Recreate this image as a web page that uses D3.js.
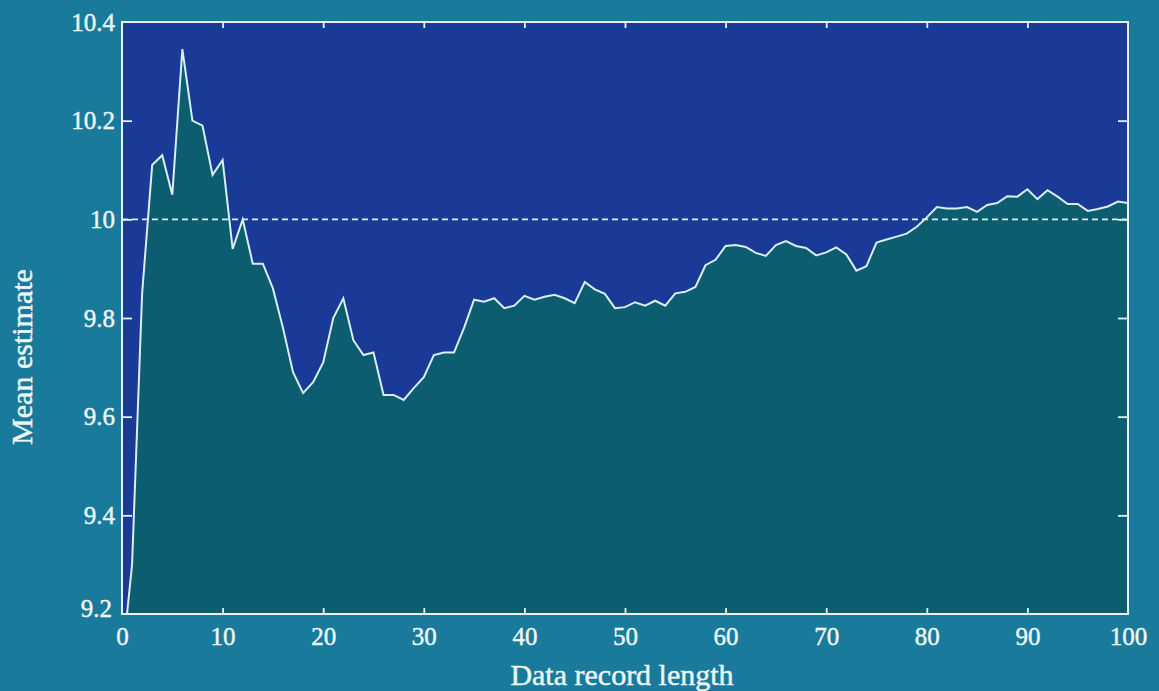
<!DOCTYPE html>
<html>
<head>
<meta charset="utf-8">
<script src="https://cdn.jsdelivr.net/npm/d3@7"></script>
<style>
  html, body { margin: 0; padding: 0; background: #197a9c; }
  svg { display: block; }
  text { font-family: "Liberation Serif", "Times New Roman", serif; fill: #eef6f4; stroke: #eef6f4; stroke-width: 0.45px; }
</style>
</head>
<body>
<svg id="chart" width="1159" height="691"></svg>
<script>
// Running mean estimate versus the number of samples used
const recordLength = d3.range(0, 101);
const meanEstimate = [
  9.10, 9.30, 9.85, 10.11, 10.13, 10.05, 10.345, 10.20, 10.19, 10.09,
  10.12, 9.94, 10.00, 9.91, 9.91, 9.86, 9.78, 9.69, 9.648, 9.67,
  9.71, 9.80, 9.84, 9.755, 9.725, 9.73, 9.644, 9.644, 9.634, 9.658,
  9.68, 9.725, 9.73, 9.73, 9.78, 9.837, 9.833, 9.84, 9.82, 9.825,
  9.845, 9.837, 9.843, 9.847, 9.84, 9.83, 9.873, 9.858, 9.849, 9.82,
  9.822, 9.832, 9.825, 9.835, 9.825, 9.85, 9.853, 9.863, 9.907, 9.918,
  9.946, 9.948, 9.944, 9.932, 9.926, 9.948, 9.956, 9.946, 9.942, 9.927,
  9.933, 9.943, 9.929, 9.896, 9.905, 9.953, 9.959, 9.965, 9.971, 9.985,
  10.004, 10.025, 10.022, 10.022, 10.025, 10.015, 10.029, 10.033, 10.047, 10.046,
  10.061, 10.041, 10.059, 10.046, 10.031, 10.031, 10.017, 10.021, 10.026, 10.036,
  10.033
];
const trueMean = 10;
const xTicks = [0, 10, 20, 30, 40, 50, 60, 70, 80, 90, 100];
const yTicks = [9.2, 9.4, 9.6, 9.8, 10, 10.2, 10.4];

const W = 1159, H = 691;
const margin = { top: 22, right: 31, bottom: 77, left: 122 };
const innerW = W - margin.left - margin.right;
const innerH = H - margin.top - margin.bottom;

const colors = {
  page: "#197a9c",
  plot: "#1a3a98",
  fill: "#0c5d70",
  line: "#d9eef0",
  axis: "#e6f2f0"
};

const svg = d3.select("#chart");
svg.append("rect").attr("width", W).attr("height", H).attr("fill", colors.page);

const g = svg.append("g").attr("transform", `translate(${margin.left},${margin.top})`);

const x = d3.scaleLinear().domain([0, 100]).range([0, innerW]);
const y = d3.scaleLinear().domain([9.2, 10.4]).range([innerH, 0]);

const data = recordLength.map((n, i) => ({ n, v: meanEstimate[i] }));

svg.append("defs").append("clipPath").attr("id", "plotClip")
  .append("rect").attr("width", innerW).attr("height", innerH);

// plot background
g.append("rect").attr("width", innerW).attr("height", innerH).attr("fill", colors.plot);

const plot = g.append("g").attr("clip-path", "url(#plotClip)");

// area under the running mean
plot.append("path")
  .datum(data)
  .attr("fill", colors.fill)
  .attr("d", d3.area().x(d => x(d.n)).y0(innerH + 5).y1(d => y(d.v)));

// reference level at the true mean
plot.append("line")
  .attr("x1", 0).attr("x2", innerW)
  .attr("y1", y(trueMean)).attr("y2", y(trueMean))
  .attr("stroke", colors.line)
  .attr("stroke-width", 1.6)
  .attr("stroke-dasharray", "6,4");

// running mean line
plot.append("path")
  .datum(data)
  .attr("fill", "none")
  .attr("stroke", colors.line)
  .attr("stroke-width", 2)
  .attr("stroke-linejoin", "miter")
  .attr("d", d3.line().x(d => x(d.n)).y(d => y(d.v)));

// axes with inward ticks on all four sides
function styleAxis(sel) {
  sel.select(".domain").remove();
  sel.selectAll(".tick line").attr("stroke", colors.axis).attr("stroke-width", 1.8);
  sel.selectAll(".tick text")
    .attr("fill", "#eef6f4")
    .style("font-family", '"Liberation Serif", "Times New Roman", serif')
    .style("font-size", "25px");
}

const xAxis = g.append("g")
  .attr("transform", `translate(0,${innerH})`)
  .call(d3.axisBottom(x).tickValues(xTicks).tickSizeInner(-6).tickSizeOuter(0).tickPadding(13).tickFormat(d3.format("d")));
styleAxis(xAxis);
xAxis.selectAll(".tick line").filter(d => d === 0 || d === 100).remove();

const xTop = g.append("g")
  .call(d3.axisTop(x).tickValues(xTicks).tickSizeInner(-6).tickSizeOuter(0).tickFormat(""));
styleAxis(xTop);
xTop.selectAll(".tick line").filter(d => d === 0 || d === 100).remove();

const yAxis = g.append("g")
  .call(d3.axisLeft(y).tickValues(yTicks).tickSizeInner(-10).tickSizeOuter(0).tickPadding(7).tickFormat(d => d === 10 ? "10" : d3.format(".1f")(d)));
styleAxis(yAxis);
yAxis.selectAll(".tick line").filter(d => d === 9.2 || d === 10.4).remove();
yAxis.selectAll(".tick text").filter(d => d === 9.2).attr("dy", "0.1em").attr("x", -10);

const yRight = g.append("g")
  .attr("transform", `translate(${innerW},0)`)
  .call(d3.axisRight(y).tickValues(yTicks).tickSizeInner(-10).tickSizeOuter(0).tickFormat(""));
styleAxis(yRight);
yRight.selectAll(".tick line").filter(d => d === 9.2 || d === 10.4).remove();

// frame
g.append("rect")
  .attr("width", innerW).attr("height", innerH)
  .attr("fill", "none")
  .attr("stroke", colors.axis)
  .attr("stroke-width", 2);

// axis titles
svg.append("text")
  .attr("x", margin.left + innerW / 2 - 3)
  .attr("y", 685)
  .attr("text-anchor", "middle")
  .style("font-size", "30px")
  .text("Data record length");

svg.append("text")
  .attr("transform", `translate(32,357) rotate(-90)`)
  .attr("text-anchor", "middle")
  .style("font-size", "30px")
  .text("Mean estimate");
</script>
</body>
</html>
